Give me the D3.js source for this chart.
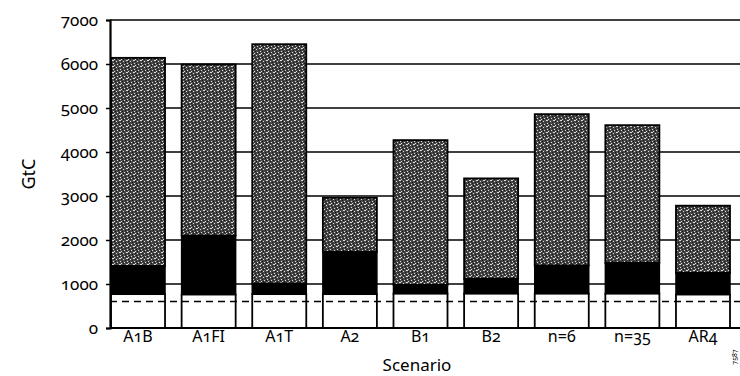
<!DOCTYPE html>
<html><head><meta charset="utf-8">
<script src="https://cdn.jsdelivr.net/npm/d3@7"></script>
<style>
html,body{margin:0;padding:0;background:#fff;}
svg text{font-family:"Noto Sans","Open Sans",sans-serif;font-feature-settings:"onum";}
</style></head>
<body><svg id="chart" width="740" height="376"></svg>
<script>
const categories = ["A1B","A1FI","A1T","A2","B1","B2","n=6","n=35","AR4"];
const whiteTop = [770,760,770,770,780,780,780,780,760];
const blackTop = [1410,2100,1010,1730,980,1120,1420,1480,1250];
const totalTop = [6140,5990,6450,2960,4270,3400,4860,4610,2780];
const yTicks = [0,1000,2000,3000,4000,5000,6000,7000];
const dashedLevel = 600;

const svg = d3.select("#chart");
const defs = svg.append("defs");
const pat = defs.append("pattern").attr("id","stip").attr("patternUnits","userSpaceOnUse")
  .attr("width",7).attr("height",6);
pat.append("rect").attr("width",7).attr("height",6).attr("fill","#474747");
[[0,0,2],[4,1,1],[1,3,1],[5,4,1],[2,5,1]].forEach(d=>{
  pat.append("rect").attr("x",d[0]).attr("y",d[1]).attr("width",d[2]).attr("height",1).attr("fill","#dcdcdc");
});
[[2,1],[6,2],[0,4],[4,5],[3,3]].forEach(d=>{
  pat.append("rect").attr("x",d[0]).attr("y",d[1]).attr("width",1).attr("height",1).attr("fill","#151515");
});

const x = d3.scaleBand().domain(categories).range([111,730]).paddingInner(0.235).paddingOuter(0);
const y = d3.scaleLinear().domain([0,7000]).range([328,20]);
const left = 110, right = 740;

svg.append("g").selectAll("line").data(yTicks).join("line")
  .attr("x1",left).attr("x2",right).attr("y1",d=>y(d)).attr("y2",d=>y(d))
  .attr("stroke","#000").attr("stroke-width",1.6);

const bars = svg.append("g").selectAll("g").data(categories).join("g");
bars.append("rect").attr("x",d=>x(d)).attr("width",x.bandwidth())
  .attr("y",(d,i)=>y(totalTop[i])).attr("height",(d,i)=>y(blackTop[i])-y(totalTop[i]))
  .attr("fill","url(#stip)").attr("stroke","#000").attr("stroke-width",1.8);
bars.append("rect").attr("x",d=>x(d)).attr("width",x.bandwidth())
  .attr("y",(d,i)=>y(blackTop[i])).attr("height",(d,i)=>y(whiteTop[i])-y(blackTop[i]))
  .attr("fill","#000").attr("stroke","#000").attr("stroke-width",1.5);
bars.append("rect").attr("x",d=>x(d)).attr("width",x.bandwidth())
  .attr("y",(d,i)=>y(whiteTop[i])).attr("height",(d,i)=>y(0)-y(whiteTop[i]))
  .attr("fill","#fff").attr("stroke","#000").attr("stroke-width",1.8);

svg.append("line").attr("x1",left).attr("x2",right).attr("y1",y(dashedLevel)).attr("y2",y(dashedLevel))
  .attr("stroke","#000").attr("stroke-width",1.5).attr("stroke-dasharray","7,5");

svg.append("line").attr("x1",left).attr("x2",right).attr("y1",y(0)).attr("y2",y(0))
  .attr("stroke","#000").attr("stroke-width",1.8);

const yAxis = d3.axisLeft(y).tickValues(yTicks).tickSize(4).tickPadding(8).tickFormat(d3.format("d"));
const ga = svg.append("g").attr("transform",`translate(${left},0)`).call(yAxis);
ga.select(".domain").attr("stroke-width",2.2);
ga.selectAll(".tick line").attr("stroke-width",1.5);
ga.selectAll("text").attr("font-size",17).attr("fill","#000");

const xAxis = d3.axisBottom(x).tickSize(0).tickPadding(3);
const gx = svg.append("g").attr("transform",`translate(0,${y(0)})`).call(xAxis);
gx.select(".domain").remove();
gx.selectAll("text").attr("font-size",16).attr("fill","#000");

svg.append("text").attr("transform","translate(35,174) rotate(-90)").attr("text-anchor","middle")
  .attr("font-size",18).text("GtC");
svg.append("text").attr("x",417).attr("y",371).attr("text-anchor","middle")
  .attr("font-size",17).text("Scenario");
svg.append("text").attr("transform","translate(737,357) rotate(-90)").attr("text-anchor","middle")
  .attr("font-size",7).text("7587");
</script></body></html>
